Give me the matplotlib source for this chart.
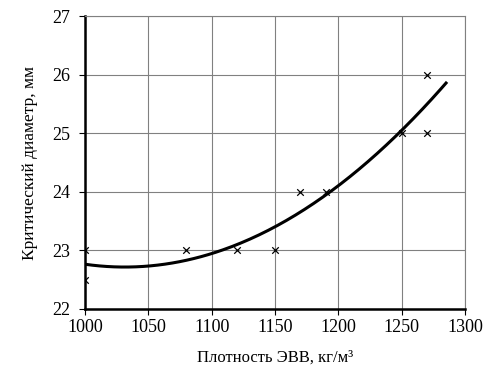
import matplotlib.pyplot as plt
import numpy as np

plt.rcParams['font.family'] = ['Liberation Serif', 'DejaVu Serif']

# measured points
density = [1000, 1000, 1080, 1120, 1150, 1170, 1190, 1250, 1270, 1270]
diameter = [23, 22.5, 23, 23, 23, 24, 24, 25, 26, 25]

# polynomial trend line (2nd order), drawn over this range
trend_start = 1000
trend_end = 1285

coef = np.polyfit(density, diameter, 2)
xs = np.linspace(trend_start, trend_end, 200)
ys = np.polyval(coef, xs)

fig = plt.figure(figsize=(4.89, 3.74), dpi=100)
ax = fig.add_axes([0.174, 0.174, 0.777, 0.783])

ax.plot(xs, ys, color='black', lw=2.2, zorder=3)
ax.scatter(density, diameter, marker='x', color='black', s=22, lw=0.9, zorder=4)

ax.set_xlim(1000, 1300)
ax.set_ylim(22, 27)
ax.set_xticks(range(1000, 1301, 50))
ax.set_yticks(range(22, 28))
ax.grid(True, color='#808080', lw=0.8)
ax.set_axisbelow(True)

for s in ['top', 'right']:
    ax.spines[s].set_color('#808080')
    ax.spines[s].set_linewidth(0.8)
for s in ['left', 'bottom']:
    ax.spines[s].set_linewidth(1.8)

ax.tick_params(direction='out', length=4, width=0.8, labelsize=13)
ax.tick_params(axis='x', pad=3)
ax.tick_params(axis='y', pad=7)
ax.set_xlabel('Плотность ЭВВ, кг/м³', fontsize=12, labelpad=10)
ax.set_ylabel('Критический диаметр, мм', fontsize=12.5, labelpad=10)

fig.savefig('out.png', dpi=100)
